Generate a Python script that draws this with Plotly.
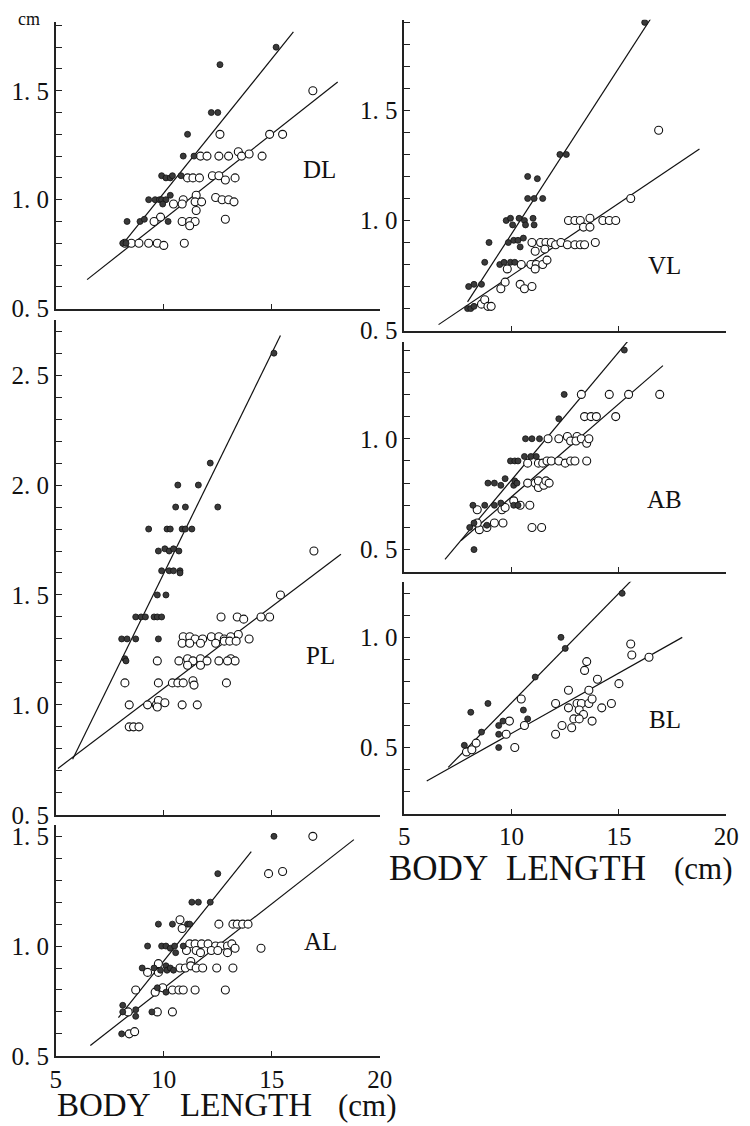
import numpy as np
import plotly.graph_objects as go

# ---------------- DATA ----------------
# DL
DL_filled_x = [15.2, 12.6, 12.2, 12.5, 11.1, 10.9, 11.4, 9.9, 10.1, 10.3, 10.4, 10.8, 9.3, 9.6, 9.8, 9.9, 10.1, 10.3, 9.95, 8.3, 8.9, 9.1, 10.2, 8.1, 8.25]
DL_filled_y = [1.7, 1.62, 1.4, 1.4, 1.3, 1.2, 1.2, 1.11, 1.1, 1.1, 1.11, 1.11, 1.0, 1.0, 1.0, 1.0, 1.0, 1.02, 0.98, 0.9, 0.9, 0.91, 0.9, 0.8, 0.8]
DL_open_x = [16.9, 12.6, 14.9, 15.5, 11.7, 12.0, 12.55, 13.0, 13.45, 13.6, 13.95, 14.55, 11.1, 11.35, 11.65, 12.25, 12.55, 12.85, 13.3, 10.45, 10.9, 10.85, 11.5, 11.45, 11.75, 11.5, 12.4, 12.7, 13.0, 13.25, 9.85, 9.55, 10.85, 11.2, 11.45, 11.2, 12.85, 8.2, 8.5, 8.85, 9.3, 9.7, 10.0, 10.95]
DL_open_y = [1.5, 1.3, 1.3, 1.3, 1.2, 1.2, 1.2, 1.2, 1.22, 1.2, 1.21, 1.2, 1.1, 1.1, 1.1, 1.11, 1.11, 1.09, 1.1, 0.98, 1.0, 0.98, 1.02, 0.99, 0.99, 0.95, 1.01, 1.0, 1.0, 0.99, 0.92, 0.9, 0.9, 0.9, 0.9, 0.88, 0.91, 0.8, 0.8, 0.8, 0.8, 0.8, 0.79, 0.8]
DL_fline_x = [8.05, 16.0]
DL_fline_y = [0.79, 1.77]
DL_oline_x = [6.45, 18.05]
DL_oline_y = [0.633, 1.54]

# VL
VL_filled_x = [16.2, 12.25, 12.55, 10.75, 11.2, 10.75, 11.05, 11.45, 9.75, 9.95, 10.35, 10.6, 11.0, 10.05, 10.65, 11.05, 8.95, 9.85, 10.1, 10.3, 10.55, 10.4, 8.75, 9.45, 9.65, 9.95, 10.15, 8.0, 8.25, 8.6, 7.95, 8.1, 8.25]
VL_filled_y = [1.9, 1.3, 1.3, 1.2, 1.19, 1.1, 1.1, 1.1, 1.0, 1.01, 1.01, 1.0, 1.01, 0.98, 0.98, 0.98, 0.9, 0.9, 0.91, 0.91, 0.92, 0.88, 0.81, 0.8, 0.81, 0.81, 0.81, 0.7, 0.71, 0.71, 0.6, 0.6, 0.61]
VL_open_x = [16.85, 15.55, 12.65, 12.95, 13.2, 13.65, 13.35, 13.65, 14.25, 14.55, 14.85, 10.95, 11.35, 11.6, 11.85, 12.05, 12.3, 12.6, 12.95, 13.2, 13.4, 13.9, 11.1, 11.55, 9.8, 10.45, 10.9, 11.15, 11.45, 11.65, 11.1, 9.7, 9.5, 10.4, 10.6, 10.95, 8.6, 8.75, 8.9, 9.05]
VL_open_y = [1.41, 1.1, 1.0, 1.0, 1.0, 1.01, 0.97, 0.97, 1.0, 1.0, 1.0, 0.9, 0.9, 0.9, 0.9, 0.89, 0.9, 0.89, 0.89, 0.89, 0.89, 0.9, 0.86, 0.87, 0.78, 0.8, 0.8, 0.8, 0.8, 0.82, 0.78, 0.72, 0.69, 0.71, 0.69, 0.7, 0.62, 0.64, 0.61, 0.61]
VL_fline_x = [7.95, 16.6]
VL_fline_y = [0.63, 1.935]
VL_oline_x = [6.6, 18.75]
VL_oline_y = [0.527, 1.325]

# PL
PL_filled_x = [15.1, 12.15, 10.65, 11.6, 10.55, 11.0, 12.5, 9.3, 10.15, 10.3, 10.85, 11.0, 11.3, 9.75, 10.05, 10.25, 10.45, 10.7, 9.9, 10.25, 10.45, 10.75, 10.75, 9.7, 10.1, 8.7, 8.95, 9.15, 9.55, 9.7, 9.9, 8.05, 8.3, 8.7, 9.75, 8.2, 8.25]
PL_filled_y = [2.6, 2.1, 2.0, 2.0, 1.9, 1.9, 1.9, 1.8, 1.8, 1.8, 1.8, 1.8, 1.8, 1.7, 1.71, 1.7, 1.71, 1.7, 1.61, 1.61, 1.61, 1.61, 1.6, 1.5, 1.5, 1.4, 1.4, 1.4, 1.4, 1.4, 1.4, 1.3, 1.3, 1.3, 1.3, 1.21, 1.2]
PL_open_x = [16.95, 15.4, 12.65, 13.4, 13.7, 14.5, 14.9, 10.9, 11.2, 11.45, 11.8, 12.2, 12.55, 12.8, 13.1, 13.45, 13.95, 10.85, 11.2, 11.7, 12.4, 12.8, 13.05, 13.35, 9.7, 10.7, 11.1, 11.35, 11.7, 12.0, 11.7, 11.1, 12.55, 13.1, 13.3, 12.95, 8.2, 9.75, 10.4, 10.65, 10.9, 11.35, 11.4, 12.9, 8.4, 9.25, 9.65, 9.75, 10.05, 9.7, 10.85, 11.55, 8.4, 8.6, 8.85]
PL_open_y = [1.7, 1.5, 1.4, 1.4, 1.39, 1.4, 1.4, 1.31, 1.31, 1.3, 1.3, 1.31, 1.31, 1.3, 1.31, 1.32, 1.3, 1.28, 1.28, 1.28, 1.28, 1.29, 1.29, 1.29, 1.2, 1.2, 1.21, 1.2, 1.21, 1.2, 1.18, 1.18, 1.2, 1.21, 1.2, 1.2, 1.1, 1.1, 1.1, 1.1, 1.1, 1.11, 1.09, 1.1, 1.0, 1.0, 1.0, 1.02, 1.01, 0.99, 1.0, 1.0, 0.9, 0.9, 0.9]
PL_fline_x = [5.78, 15.4]
PL_fline_y = [0.753, 2.68]
PL_oline_x = [5.1, 18.2]
PL_oline_y = [0.711, 1.685]

# AB
AB_filled_x = [15.25, 12.45, 12.2, 10.65, 10.95, 11.3, 9.95, 10.15, 10.3, 10.6, 10.9, 11.15, 8.9, 9.2, 9.5, 9.7, 10.1, 10.15, 10.25, 8.2, 8.75, 9.2, 9.5, 10.1, 10.3, 8.25, 8.05, 8.85, 8.25]
AB_filled_y = [1.4, 1.2, 1.09, 1.0, 1.0, 1.0, 0.9, 0.9, 0.9, 0.92, 0.92, 0.92, 0.8, 0.8, 0.79, 0.82, 0.79, 0.81, 0.8, 0.7, 0.7, 0.7, 0.71, 0.7, 0.7, 0.62, 0.6, 0.61, 0.5]
AB_open_x = [13.25, 14.55, 15.45, 16.9, 13.4, 13.7, 13.95, 14.85, 11.7, 12.2, 12.6, 12.75, 13.05, 13.0, 13.25, 13.5, 13.6, 10.75, 11.25, 11.45, 11.65, 11.85, 12.2, 12.5, 12.75, 12.95, 13.5, 10.75, 11.1, 11.25, 11.25, 11.5, 11.6, 11.75, 8.4, 9.55, 9.7, 10.1, 10.4, 10.85, 8.5, 8.85, 9.2, 9.6, 10.95, 11.4, 8.4]
AB_open_y = [1.2, 1.2, 1.2, 1.2, 1.1, 1.1, 1.1, 1.1, 1.0, 1.0, 1.01, 0.99, 1.01, 0.99, 1.0, 0.98, 1.0, 0.89, 0.89, 0.89, 0.9, 0.9, 0.9, 0.89, 0.9, 0.9, 0.9, 0.8, 0.8, 0.78, 0.81, 0.79, 0.81, 0.8, 0.68, 0.68, 0.69, 0.72, 0.7, 0.7, 0.59, 0.6, 0.62, 0.62, 0.6, 0.6, 0.62]
AB_fline_x = [6.9, 15.5]
AB_fline_y = [0.456, 1.45]
AB_oline_x = [7.65, 17.05]
AB_oline_y = [0.541, 1.33]

# BL
BL_filled_x = [15.15, 12.3, 12.5, 11.1, 8.9, 8.1, 10.55, 10.75, 9.4, 9.6, 8.6, 9.4, 9.4, 7.8]
BL_filled_y = [1.2, 1.0, 0.95, 0.82, 0.7, 0.66, 0.67, 0.63, 0.6, 0.62, 0.57, 0.56, 0.5, 0.51]
BL_open_x = [15.55, 15.6, 16.4, 13.5, 13.4, 14.0, 15.0, 12.65, 13.6, 10.45, 12.05, 13.05, 13.25, 13.6, 13.75, 14.65, 12.65, 13.15, 14.2, 13.35, 12.9, 13.15, 13.75, 9.9, 10.6, 12.35, 12.8, 9.75, 12.05, 7.9, 8.15, 8.35, 10.15]
BL_open_y = [0.97, 0.92, 0.91, 0.89, 0.85, 0.81, 0.79, 0.76, 0.76, 0.72, 0.7, 0.7, 0.7, 0.7, 0.72, 0.7, 0.68, 0.67, 0.68, 0.65, 0.63, 0.63, 0.62, 0.62, 0.6, 0.6, 0.59, 0.56, 0.56, 0.48, 0.49, 0.52, 0.5]
BL_fline_x = [7.05, 15.6]
BL_fline_y = [0.41, 1.26]
BL_oline_x = [6.05, 17.95]
BL_oline_y = [0.348, 1.0]

# AL
AL_filled_x = [15.1, 12.5, 11.3, 11.6, 12.15, 9.75, 10.4, 11.1, 11.2, 9.25, 9.9, 10.1, 10.3, 10.5, 10.55, 10.9, 9.0, 9.55, 9.85, 10.1, 10.15, 10.3, 10.45, 9.7, 10.1, 8.1, 8.1, 8.7, 8.7, 9.45, 8.05]
AL_filled_y = [1.5, 1.33, 1.2, 1.2, 1.2, 1.1, 1.1, 1.1, 1.1, 1.0, 1.0, 1.0, 0.99, 1.0, 0.97, 1.0, 0.9, 0.9, 0.89, 0.91, 0.89, 0.9, 0.89, 0.81, 0.79, 0.73, 0.7, 0.71, 0.68, 0.7, 0.6]
AL_open_x = [16.9, 14.85, 15.5, 12.55, 13.2, 13.4, 13.65, 13.9, 10.75, 10.85, 14.5, 11.2, 11.45, 11.75, 12.05, 12.4, 12.65, 12.95, 13.15, 11.05, 11.5, 11.7, 12.2, 12.5, 12.95, 13.3, 9.25, 9.75, 9.75, 10.75, 11.0, 11.25, 11.25, 11.5, 11.8, 12.45, 13.2, 8.7, 9.6, 9.95, 10.4, 10.7, 10.9, 11.45, 12.85, 8.35, 9.7, 10.4, 8.4, 8.65]
AL_open_y = [1.5, 1.33, 1.34, 1.1, 1.1, 1.1, 1.1, 1.1, 1.12, 1.08, 0.99, 1.01, 1.01, 1.01, 1.01, 1.0, 1.0, 1.0, 1.01, 0.98, 0.98, 0.97, 0.98, 0.98, 0.97, 0.99, 0.88, 0.92, 0.88, 0.9, 0.9, 0.93, 0.91, 0.9, 0.9, 0.9, 0.9, 0.8, 0.79, 0.81, 0.8, 0.8, 0.8, 0.8, 0.8, 0.7, 0.7, 0.7, 0.6, 0.61]
AL_fline_x = [7.9, 14.05]
AL_fline_y = [0.674, 1.43]
AL_oline_x = [6.6, 18.8]
AL_oline_y = [0.547, 1.485]

# tick labels
X_TICKS = [5, 10, 15, 20]
X_TICK_TEXT = ["5", "10", "15", "20"]
DL_ylabels = [0.5, 1.0, 1.5]
PL_ylabels = [0.5, 1.0, 1.5, 2.0, 2.5]
AL_ylabels = [0.5, 1.0, 1.5]
VL_ylabels = [0.5, 1.0, 1.5]
AB_ylabels = [0.5, 1.0]
BL_ylabels = [0.5, 1.0]

# ---------------- LAYOUT ----------------
W, H = 750, 1126
FONT = "Liberation Serif, Times New Roman, Times, serif"
LEFT = (51, 383)
RIGHT = (408, 738)

panels = [
    ("DL", LEFT, 311, 20, [0.5, 1.817], DL_ylabels, False, (321, 170),
     DL_filled_x, DL_filled_y, DL_open_x, DL_open_y, DL_fline_x, DL_fline_y, DL_oline_x, DL_oline_y),
    ("PL", LEFT, 824.5, 323, [0.5, 2.749], PL_ylabels, False, (322, 663),
     PL_filled_x, PL_filled_y, PL_open_x, PL_open_y, PL_fline_x, PL_fline_y, PL_oline_x, PL_oline_y),
    ("AL", LEFT, 1069, 835, [0.5, 1.551], AL_ylabels, True, (322, 953),
     AL_filled_x, AL_filled_y, AL_open_x, AL_open_y, AL_fline_x, AL_fline_y, AL_oline_x, AL_oline_y),
    ("VL", RIGHT, 333.3, 18, [0.5, 1.912], VL_ylabels, False, (675, 267),
     VL_filled_x, VL_filled_y, VL_open_x, VL_open_y, VL_fline_x, VL_fline_y, VL_oline_x, VL_oline_y),
    ("AB", RIGHT, 578, 345, [0.4, 1.436], AB_ylabels, False, (675, 505),
     AB_filled_x, AB_filled_y, AB_open_x, AB_open_y, AB_fline_x, AB_fline_y, AB_oline_x, AB_oline_y),
    ("BL", RIGHT, 823.3, 588, [0.2, 1.253], BL_ylabels, True, (675, 728),
     BL_filled_x, BL_filled_y, BL_open_x, BL_open_y, BL_fline_x, BL_fline_y, BL_oline_x, BL_oline_y),
]

fig = go.Figure()
layout = dict(
    width=W, height=H, margin=dict(l=0, r=0, t=0, b=0),
    paper_bgcolor="white", plot_bgcolor="rgba(0,0,0,0)",
    showlegend=False, font=dict(family=FONT, color="#111"),
)
annotations = []

def ylabel(v):
    s = f"{v:.1f}"
    return s.replace(".", ". ")

for i, p in enumerate(panels, start=1):
    (name, col, bpx, tpx, yr, ylabs, showx, lpos,
     fx, fy, ox, oy, flx, fly, olx, oly) = p
    xa = "x" if i == 1 else f"x{i}"
    ya = "y" if i == 1 else f"y{i}"
    xkey = "xaxis" if i == 1 else f"xaxis{i}"
    ykey = "yaxis" if i == 1 else f"yaxis{i}"
    minor = np.round(np.arange(np.ceil(yr[0] * 10 - 1e-6) / 10, yr[1] + 1e-6, 0.1), 2)
    ttext = [ylabel(v) if any(abs(v - l) < 1e-6 for l in ylabs) else "" for v in minor]
    layout[xkey] = dict(
        domain=[col[0] / W, col[1] / W], range=[5, 20], anchor=ya,
        showline=True, linecolor="#222", linewidth=1.5, mirror=False,
        ticks="inside", ticklen=5, tickwidth=1, tickcolor="#222",
        tickvals=X_TICKS if showx else X_TICKS[1:],
        ticktext=X_TICK_TEXT if showx else ["", "", ""],
        showticklabels=showx, tickfont=dict(family=FONT, size=25, color="#111"),
        showgrid=False, zeroline=False, fixedrange=True,
    )
    layout[ykey] = dict(
        domain=[1 - bpx / H, 1 - tpx / H], range=yr, anchor=xa,
        showline=True, linecolor="#222", linewidth=1.5,
        ticks="inside", ticklen=6, tickwidth=1, tickcolor="#222",
        tickvals=[float(v) for v in minor], ticktext=ttext,
        tickfont=dict(family=FONT, size=25, color="#111"),
        showgrid=False, zeroline=False, fixedrange=True,
    )
    fig.add_trace(go.Scatter(x=flx, y=fly, mode="lines", xaxis=xa, yaxis=ya,
                             line=dict(color="#111", width=1.2)))
    fig.add_trace(go.Scatter(x=olx, y=oly, mode="lines", xaxis=xa, yaxis=ya,
                             line=dict(color="#111", width=1.2)))
    fig.add_trace(go.Scatter(x=ox, y=oy, mode="markers", xaxis=xa, yaxis=ya,
                             marker=dict(symbol="circle", size=8, color="white",
                                         line=dict(color="#111", width=1.1))))
    fig.add_trace(go.Scatter(x=fx, y=fy, mode="markers", xaxis=xa, yaxis=ya,
                             marker=dict(symbol="circle", size=6, color="#3a3a3a",
                                         line=dict(color="#111", width=0.8))))
    annotations.append(dict(text=name, x=lpos[0] / W, y=1 - lpos[1] / H,
                            xref="paper", yref="paper", showarrow=False,
                            xanchor="center", yanchor="middle",
                            font=dict(family=FONT, size=25, color="#111")))

# axis titles
for words, ypx, fs in (([("BODY", 100), ("LENGTH", 246), ("(cm)", 370)], 1119, 33),
                       ([("BODY", 443), ("LENGTH", 584), ("(cm)", 715)], 879, 35)):
    for w, xpx in words:
        annotations.append(dict(text=w, x=xpx / W, y=1 - ypx / H, xref="paper", yref="paper",
                                showarrow=False, xanchor="center", yanchor="middle",
                                font=dict(family=FONT, size=fs if w != "(cm)" else 31, color="#111")))
annotations.append(dict(text="cm", x=24 / W, y=1 - 17 / H, xref="paper", yref="paper",
                        showarrow=False, xanchor="center", yanchor="middle",
                        font=dict(family=FONT, size=18, color="#111")))
layout["annotations"] = annotations
fig.update_layout(**layout)
fig.write_html("out.html")
